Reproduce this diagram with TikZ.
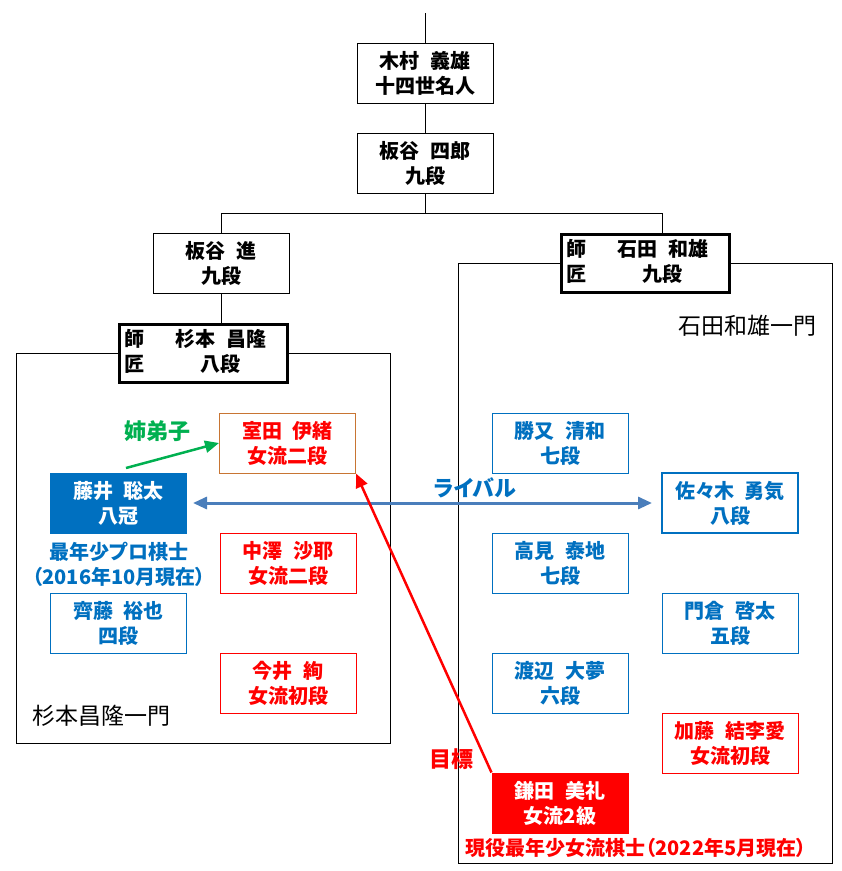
\documentclass[tikz,border=0pt]{standalone}
\usepackage{fontspec}
\setmainfont{Noto Sans CJK JP}[WordSpace=2.2,RawFeature=+palt]
\usetikzlibrary{arrows.meta}
\tikzset{>={Triangle[length=14pt,width=12pt]}}
\definecolor{problue}{HTML}{0070C0}
\definecolor{rivalblue}{HTML}{4A7EBB}
\definecolor{ladyred}{HTML}{FF0000}
\definecolor{sisorange}{HTML}{C87533}
\definecolor{anegreen}{HTML}{00B050}

\begin{document}
\begin{tikzpicture}[x=1pt,y=-1pt,line width=1pt,
  every node/.style={font=\fontsize{20}{25}\selectfont\bfseries},
  box/.style={draw,fill=white,minimum width=136pt,minimum height=60pt,inner sep=0pt,align=center},
  master/.style={box,line width=3pt,minimum width=168pt,minimum height=58pt},
  pro/.style={box,draw=problue,text=problue},
  lady/.style={box,draw=ladyred,text=ladyred},
  note/.style={align=center,inner sep=0pt},
  ichimon/.style={inner sep=0pt,font=\fontsize{23}{28}\selectfont}]
\useasboundingbox (0,0) rectangle (842,871);
\draw (16,353) rectangle (390,743);
\draw (458,263) rectangle (832,863);
\coordinate (top) at (425,13);
\node[box] (kimura) at (425,73) {木村 義雄\\十四世名人};
\node[box] (itayaS) at (425,163) {板谷 四郎\\九段};
\node[box] (itayaJ) at (221,263) {板谷 進\\九段};
\node[master] (ishida) at (645.5,263.5) {\begin{tabular}{@{}l@{\hspace{31pt}}c@{\hspace{16pt}}}師&石田 和雄\\匠&九段\end{tabular}};
\node[master] (sugimoto) at (203.5,353.5) {\begin{tabular}{@{}l@{\hspace{31pt}}c@{\hspace{16pt}}}師&杉本 昌隆\\匠&八段\end{tabular}};
\draw (top) -- (kimura);
\draw (kimura) -- (itayaS);
\draw (itayaS.south) -- ++(0,20) -| (itayaJ.north);
\draw (itayaS.south) -- ++(0,20) -| ([xshift=16.5pt]ishida.north);
\draw (itayaJ.south) -- (itayaJ.south |- sugimoto.north);
\node[ichimon] (sugiLabel) at (101,716) {杉本昌隆一門};
\node[ichimon] (ishiLabel) at (747,326) {石田和雄一門};
\node[box,draw=sisorange,text=ladyred] (murota) at (287.5,443) {室田 伊緒\\女流二段};
\node[pro,fill=problue,text=white] (fujii) at (118.5,503) {藤井 聡太\\八冠};
\node[note,text=problue] (fujiiNote) at (119,564) {最年少プロ棋士\\（2016年10月現在）};
\node[pro] (saito) at (118.5,623) {齊藤 裕也\\四段};
\node[lady] (nakazawa) at (288,563) {中澤 沙耶\\女流二段};
\node[lady] (imai) at (288,683) {今井 絢\\女流初段};
\node[pro] (katsumata) at (560,443) {勝又 清和\\七段};
\node[pro,line width=2pt] (sasaki) at (730,503) {佐々木 勇気\\八段};
\node[pro] (takami) at (560,563) {高見 泰地\\七段};
\node[pro] (kadokura) at (730,623) {門倉 啓太\\五段};
\node[pro] (watanabe) at (560,683) {渡辺 大夢\\六段};
\node[lady] (kato) at (730,743) {加藤 結李愛\\女流初段};
\node[lady,fill=ladyred,text=white] (kamata) at (560,803) {鎌田 美礼\\女流2級};
\node[note,text=ladyred] (kamataNote) at (636,848) {現役最年少女流棋士（2022年5月現在）};
\node[note,text=anegreen,font=\fontsize{22}{26}\selectfont\bfseries] (ane) at (157,431) {姉弟子};
\node[note,text=problue,font=\fontsize{22}{26}\selectfont\bfseries] (rival) at (475,488) {ライバル};
\node[note,text=ladyred,font=\fontsize{22}{26}\selectfont\bfseries] (goal) at (451,759) {目標};
\coordinate (aneStart) at (126,468);
\draw[->,anegreen,line width=2.5pt] (aneStart) -- (murota.west);
\draw[<->,rivalblue,line width=3pt,shorten <=6pt,shorten >=9pt] (fujii.east) -- (sasaki.west);
\draw[->,ladyred,line width=2.5pt] (kamata.north west) -- (murota.south east);
\end{tikzpicture}
\end{document}
